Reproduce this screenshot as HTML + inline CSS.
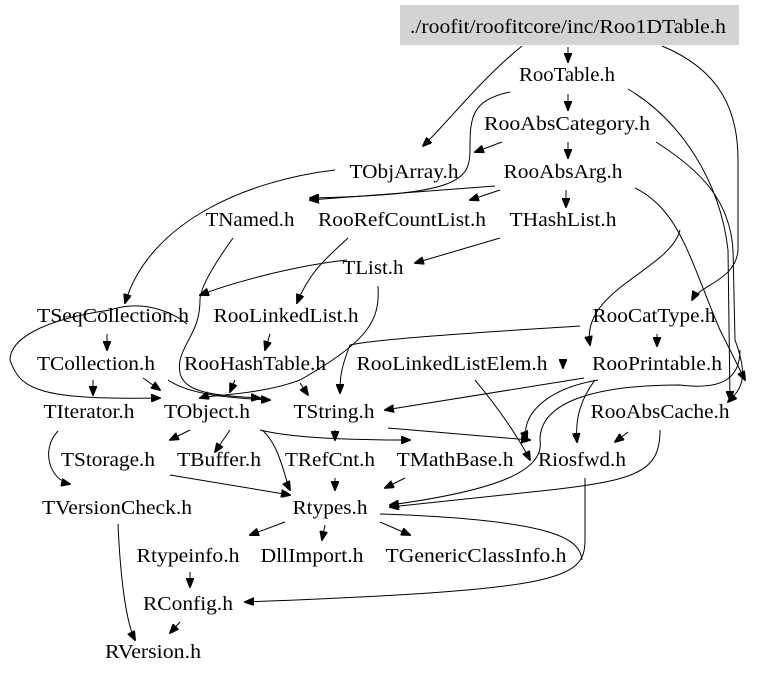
<!DOCTYPE html>
<html><head><meta charset="utf-8"><style>
html,body{margin:0;padding:0;background:#fff;width:779px;height:677px;overflow:hidden}
text{font-family:"Liberation Serif",serif;font-size:20px;fill:#000;text-anchor:middle}
path{fill:none;stroke:#000;stroke-width:1}
</style></head><body>
<svg width="779" height="677" viewBox="0 0 779 677" xmlns="http://www.w3.org/2000/svg">
<defs><marker id="a" markerWidth="10" markerHeight="8" refX="9" refY="4" orient="auto" markerUnits="userSpaceOnUse"><path d="M0,0 L10,4 L0,8 Z" style="fill:#000;stroke:#000"/></marker></defs>
<rect x="400" y="5" width="339" height="40" fill="#d3d3d3"/>
<g>
<text x="568" y="33" textLength="316" lengthAdjust="spacingAndGlyphs">./roofit/roofitcore/inc/Roo1DTable.h</text>
<text x="567" y="81" textLength="96" lengthAdjust="spacingAndGlyphs">RooTable.h</text>
<text x="567" y="130" textLength="166" lengthAdjust="spacingAndGlyphs">RooAbsCategory.h</text>
<text x="404" y="178" textLength="109" lengthAdjust="spacingAndGlyphs">TObjArray.h</text>
<text x="563" y="178" textLength="119" lengthAdjust="spacingAndGlyphs">RooAbsArg.h</text>
<text x="250" y="226" textLength="89" lengthAdjust="spacingAndGlyphs">TNamed.h</text>
<text x="402" y="226" textLength="168" lengthAdjust="spacingAndGlyphs">RooRefCountList.h</text>
<text x="563" y="226" textLength="107" lengthAdjust="spacingAndGlyphs">THashList.h</text>
<text x="373" y="274" textLength="61" lengthAdjust="spacingAndGlyphs">TList.h</text>
<text x="113" y="322" textLength="152" lengthAdjust="spacingAndGlyphs">TSeqCollection.h</text>
<text x="286" y="322" textLength="145" lengthAdjust="spacingAndGlyphs">RooLinkedList.h</text>
<text x="654" y="322" textLength="123" lengthAdjust="spacingAndGlyphs">RooCatType.h</text>
<text x="96" y="370" textLength="118" lengthAdjust="spacingAndGlyphs">TCollection.h</text>
<text x="255" y="370" textLength="142" lengthAdjust="spacingAndGlyphs">RooHashTable.h</text>
<text x="452" y="370" textLength="191" lengthAdjust="spacingAndGlyphs">RooLinkedListElem.h</text>
<text x="657" y="370" textLength="130" lengthAdjust="spacingAndGlyphs">RooPrintable.h</text>
<text x="89" y="418" textLength="91" lengthAdjust="spacingAndGlyphs">TIterator.h</text>
<text x="207" y="418" textLength="86" lengthAdjust="spacingAndGlyphs">TObject.h</text>
<text x="334" y="418" textLength="81" lengthAdjust="spacingAndGlyphs">TString.h</text>
<text x="660" y="418" textLength="139" lengthAdjust="spacingAndGlyphs">RooAbsCache.h</text>
<text x="108" y="466" textLength="94" lengthAdjust="spacingAndGlyphs">TStorage.h</text>
<text x="219" y="466" textLength="84" lengthAdjust="spacingAndGlyphs">TBuffer.h</text>
<text x="330" y="466" textLength="90" lengthAdjust="spacingAndGlyphs">TRefCnt.h</text>
<text x="455" y="466" textLength="117" lengthAdjust="spacingAndGlyphs">TMathBase.h</text>
<text x="582" y="466" textLength="88" lengthAdjust="spacingAndGlyphs">Riosfwd.h</text>
<text x="117" y="514" textLength="150" lengthAdjust="spacingAndGlyphs">TVersionCheck.h</text>
<text x="330" y="514" textLength="75" lengthAdjust="spacingAndGlyphs">Rtypes.h</text>
<text x="188" y="562" textLength="103" lengthAdjust="spacingAndGlyphs">Rtypeinfo.h</text>
<text x="312" y="562" textLength="103" lengthAdjust="spacingAndGlyphs">DllImport.h</text>
<text x="476" y="562" textLength="181" lengthAdjust="spacingAndGlyphs">TGenericClassInfo.h</text>
<text x="188" y="610" textLength="90" lengthAdjust="spacingAndGlyphs">RConfig.h</text>
<text x="153" y="658" textLength="96" lengthAdjust="spacingAndGlyphs">RVersion.h</text>
</g>
<g marker-end="url(#a)">
<path d="M568,47 L568,62"/>
<path d="M522,46 C480,80 450,120 423,146"/>
<path d="M662,46 C720,70 738,110 738,160 L738,250 C736,280 700,285 692,300"/>
<path d="M568,94 L568,110"/>
<path d="M628,89 C680,120 720,180 728,250 L730,400"/>
<path d="M510,92 C470,100 470,120 470,150 C470,180 460,195 310,198"/>
<path d="M568,142 L568,158"/>
<path d="M502,142 L475,152"/>
<path d="M656,142 C700,170 730,200 733,250 L735,340 C750,380 740,390 728,402"/>
<path d="M495,186 L310,200"/>
<path d="M500,190 L470,200"/>
<path d="M566,190 L566,207"/>
<path d="M635,188 C680,210 690,260 720,330 L745,380"/>
<path d="M680,230 C670,270 580,290 590,345"/>
<path d="M500,238 L415,263"/>
<path d="M335,170 C250,180 150,220 125,303"/>
<path d="M347,260 C300,265 240,280 200,295"/>
<path d="M348,238 C330,255 310,270 297,303"/>
<path d="M378,286 C380,320 370,340 300,380 C260,395 210,395 200,398"/>
<path d="M233,238 C210,270 200,290 200,300 C200,330 185,340 180,360 C175,390 200,395 260,398"/>
<path d="M657,334 L657,346"/>
<path d="M580,326 C520,330 380,338 350,345 C340,370 340,380 340,393"/>
<path d="M107,334 L107,350"/>
<path d="M270,334 L265,350"/>
<path d="M187,324 C170,310 140,300 110,310 C40,320 10,340 10,360 C20,390 40,400 160,398"/>
<path d="M93,380 L93,395"/>
<path d="M143,378 L160,390"/>
<path d="M235,380 L230,392"/>
<path d="M300,383 L308,395"/>
<path d="M168,380 C190,395 230,398 270,400"/>
<path d="M584,378 L385,410"/>
<path d="M598,380 C540,390 520,420 527,440"/>
<path d="M595,380 C580,400 575,420 577,442"/>
<path d="M563,360 L563,368"/>
<path d="M475,380 C500,410 520,440 530,460"/>
<path d="M740,350 C740,380 720,390 680,385 C600,385 540,400 540,440 C545,470 500,490 390,505"/>
<path d="M628,432 L615,442"/>
<path d="M660,430 C660,470 640,480 550,490 L390,507"/>
<path d="M388,428 L530,440"/>
<path d="M335,430 L335,440"/>
<path d="M190,430 L170,440"/>
<path d="M230,430 L215,452"/>
<path d="M262,430 C280,445 285,480 290,490"/>
<path d="M260,430 C300,440 380,440 410,440"/>
<path d="M58,431 C40,450 50,480 70,484"/>
<path d="M170,475 L290,495"/>
<path d="M335,478 L335,490"/>
<path d="M405,478 L385,488"/>
<path d="M585,478 L585,540 C585,580 560,590 245,602"/>
<path d="M285,522 L250,535"/>
<path d="M325,525 L322,540"/>
<path d="M380,522 L410,535"/>
<path d="M190,572 L190,587"/>
<path d="M118,524 C120,570 125,620 135,640"/>
<path d="M180,622 L170,633"/>
</g>
<path d="M380,514 C560,520 580,540 582,560"/>
</svg>
</body></html>
